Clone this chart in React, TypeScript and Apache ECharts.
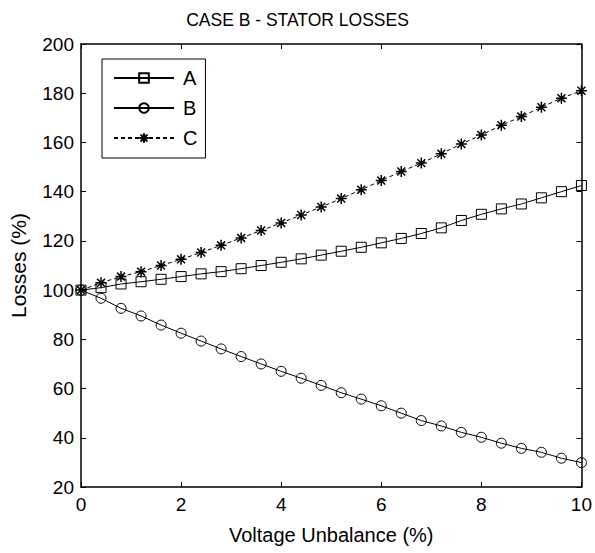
import React, { useEffect, useRef } from "react";
import * as echarts from "echarts";

const TITLE = "CASE B - STATOR LOSSES";
const X_NAME = "Voltage Unbalance (%)";
const Y_NAME = "Losses (%)";
const SERIES_NAMES = ["A", "B", "C"];

const X_VALUES = [0, 0.4, 0.8, 1.2, 1.6, 2.0, 2.4, 2.8, 3.2, 3.6, 4.0, 4.4, 4.8, 5.2, 5.6, 6.0, 6.4, 6.8, 7.2, 7.6, 8.0, 8.4, 8.8, 9.2, 9.6, 10];

const A_VALUES = [100, 101, 102.5, 103.4, 104.4, 105.5, 106.6, 107.5, 108.7, 110, 111.3, 112.7, 114.2, 115.8, 117.4, 119.2, 121, 123, 125.3, 128.3, 130.8, 133, 135, 137.5, 140, 142.5];
const B_VALUES = [100, 96.7, 92.6, 89.5, 85.8, 82.5, 79.3, 76.1, 73, 70, 67, 64.2, 61.3, 58.3, 55.7, 53, 50, 47, 44.8, 42.2, 40.2, 37.8, 35.7, 34.1, 31.7, 29.9];
const C_VALUES = [100, 103, 105.5, 107.5, 110, 112.5, 115.3, 118.2, 121.2, 124.2, 127.3, 130.5, 133.8, 137.2, 140.8, 144.5, 148.2, 151.6, 155.4, 159.4, 163, 167, 170.5, 174.3, 178, 181];

const X_MIN = 0, X_MAX = 10, X_STEP = 2;
const Y_MIN = 20, Y_MAX = 200, Y_STEP = 20;

const STAR = "path://M0,-5L0,5M-5,0L5,0M-3.6,-3.6L3.6,3.6M-3.6,3.6L3.6,-3.6";

const FONT = "Arial, 'Liberation Sans', sans-serif";

export default function App() {
  const ref = useRef<HTMLDivElement>(null);
  useEffect(() => {
    if (!ref.current) return;
    const chart = echarts.init(ref.current, undefined, { renderer: "svg" });
    const pairs = (ys: number[]) => X_VALUES.map((x, i) => [x, ys[i]]);
    const axisCommon = {
      axisLine: { show: true, onZero: false, lineStyle: { color: "#000", width: 1.5 } },
      axisTick: { show: true, inside: true, length: 5, lineStyle: { color: "#000", width: 1 } },
      splitLine: { show: false },
    };
    chart.setOption({
      animation: false,
      backgroundColor: "#fff",
      title: {
        text: TITLE,
        left: "center",
        top: 6,
        textStyle: { fontFamily: FONT, fontSize: 17.5, fontWeight: "normal", color: "#000" },
      },
      legend: {
        orient: "vertical",
        left: 102,
        top: 59,
        data: SERIES_NAMES,
        itemWidth: 60,
        itemHeight: 12,
        itemGap: 10,
        padding: [9, 8, 10, 11],
        borderColor: "#000",
        borderWidth: 1,
        backgroundColor: "#fff",
        textStyle: { fontFamily: FONT, fontSize: 20, color: "#000", padding: [0, 0, 0, 4] },
      },
      grid: { left: 80, right: 12, top: 44, bottom: 66 },
      xAxis: [
        {
          type: "value",
          min: X_MIN,
          max: X_MAX,
          interval: X_STEP,
          position: "bottom",
          name: X_NAME,
          nameLocation: "middle",
          nameGap: 38,
          nameTextStyle: { fontFamily: FONT, fontSize: 20, color: "#000" },
          axisLabel: { fontFamily: FONT, fontSize: 19, color: "#000", margin: 8 },
          ...axisCommon,
        },
        {
          type: "value",
          min: X_MIN,
          max: X_MAX,
          interval: X_STEP,
          position: "top",
          axisLabel: { show: false },
          ...axisCommon,
        },
      ],
      yAxis: [
        {
          type: "value",
          min: Y_MIN,
          max: Y_MAX,
          interval: Y_STEP,
          position: "left",
          name: Y_NAME,
          nameLocation: "middle",
          nameGap: 52,
          nameTextStyle: { fontFamily: FONT, fontSize: 21, color: "#000" },
          axisLabel: { fontFamily: FONT, fontSize: 19, color: "#000", margin: 7 },
          ...axisCommon,
        },
        {
          type: "value",
          min: Y_MIN,
          max: Y_MAX,
          interval: Y_STEP,
          position: "right",
          axisLabel: { show: false },
          ...axisCommon,
        },
      ],
      series: [
        {
          name: SERIES_NAMES[0],
          type: "line",
          data: pairs(A_VALUES),
          symbol: "rect",
          symbolSize: 10,
          lineStyle: { color: "#000", width: 1, type: "solid" },
          itemStyle: { color: "rgba(0,0,0,0)", borderColor: "#000", borderWidth: 1 },
        },
        {
          name: SERIES_NAMES[1],
          type: "line",
          data: pairs(B_VALUES),
          symbol: "circle",
          symbolSize: 10,
          lineStyle: { color: "#000", width: 1, type: "solid" },
          itemStyle: { color: "rgba(0,0,0,0)", borderColor: "#000", borderWidth: 1 },
        },
        {
          name: SERIES_NAMES[2],
          type: "line",
          data: pairs(C_VALUES),
          symbol: STAR,
          symbolSize: 11,
          lineStyle: { color: "#000", width: 1, type: [4, 3] },
          itemStyle: { color: "#000", borderColor: "#000", borderWidth: 1.5 },
        },
      ],
    });
    return () => chart.dispose();
  }, []);
  return (
    <div
      ref={ref}
      style={{ position: "fixed", left: 0, top: 0, width: 595, height: 553, background: "#fff" }}
    />
  );
}
